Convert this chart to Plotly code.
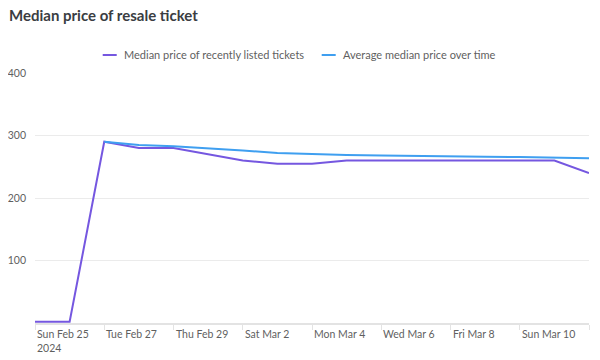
import plotly.graph_objects as go

dates = ["2024-02-25", "2024-02-26", "2024-02-27", "2024-02-28", "2024-02-29",
         "2024-03-01", "2024-03-02", "2024-03-03", "2024-03-04", "2024-03-05",
         "2024-03-06", "2024-03-07", "2024-03-08", "2024-03-09", "2024-03-10",
         "2024-03-11", "2024-03-12"]
median_recent = [2, 2, 290, 280, 280, 270, 260, 255, 255, 260, 260, 260, 260, 260, 260, 260, 240]
avg_median = [None, None, 290, 285, 283, 280, 276, 272, 270, 269, 268, 267, 266.5, 266, 265.5, 265, 263.5]

series_names = ["Median price of recently listed tickets", "Average median price over time"]

tick_dates = ["2024-02-25", "2024-02-27", "2024-02-29", "2024-03-02", "2024-03-04",
              "2024-03-06", "2024-03-08", "2024-03-10", "2024-03-12"]
tick_labels = ["Sun Feb 25<br>2024", "Tue Feb 27", "Thu Feb 29", "Sat Mar 2", "Mon Mar 4",
               "Wed Mar 6", "Fri Mar 8", "Sun Mar 10", ""]
y_ticks = [100, 200, 300, 400]

FONT = "Lato, 'Open Sans', sans-serif"
PURPLE = "#7557e0"
BLUE = "#3f9ff0"
TXT = "#5f5f5f"

fig = go.Figure()
fig.add_trace(go.Scatter(x=dates, y=median_recent, mode="lines", name=series_names[0],
                         line=dict(color=PURPLE, width=2)))
fig.add_trace(go.Scatter(x=dates, y=avg_median, mode="lines", name=series_names[1],
                         line=dict(color=BLUE, width=2)))

annotations = []
for d, t in zip(tick_dates, tick_labels):
    if t:
        annotations.append(dict(x=d, xref="x", y=0, yref="y", yshift=-3,
                                text=t, showarrow=False, xanchor="left", yanchor="top",
                                align="left", font=dict(size=10.5, color=TXT, family=FONT)))

# custom legend (short line swatches like the reference)
leg_y = 1.072
leg_items = [(0.1222, 0.1475, 0.1576, PURPLE, series_names[0]),
             (0.5175, 0.5428, 0.5518, BLUE, series_names[1])]
shapes = []
for x0, x1, xt, col, name in leg_items:
    shapes.append(dict(type="line", xref="paper", yref="paper", x0=x0, x1=x1,
                       y0=leg_y, y1=leg_y, line=dict(color=col, width=2)))
    annotations.append(dict(x=xt, xref="paper", y=leg_y, yref="paper", text=name,
                            showarrow=False, xanchor="left", yanchor="middle",
                            font=dict(size=11, color=TXT, family=FONT)))
shapes.append(dict(type="line", xref="paper", yref="paper", x0=1.0144, x1=1.0144,
                   y0=-0.2, y1=1.35, line=dict(color="#e6e6e6", width=2)))

fig.update_layout(
    width=592, height=352,
    margin=dict(l=27, r=11, t=65, b=37, autoexpand=False),
    paper_bgcolor="white", plot_bgcolor="white",
    font=dict(family=FONT, size=11, color=TXT),
    title=dict(text="<b>Median price of resale ticket</b>", x=0.0017, xanchor="left",
               y=1.0, yanchor="top", pad=dict(t=2),
               font=dict(size=15, color="#3a3d42", family=FONT)),
    showlegend=False,
    annotations=annotations,
    shapes=shapes,
)
fig.update_xaxes(
    range=["2024-02-25", "2024-03-12"], automargin=False,
    tickvals=tick_dates, ticktext=[""] * len(tick_dates),
    showgrid=False, showline=True, linecolor="#e3e3e3", linewidth=1.5,
    ticks="outside", ticklen=5, tickcolor="#e3e3e3", zeroline=False,
)
fig.update_yaxes(
    range=[0, 400], tickvals=y_ticks, automargin=False,
    showgrid=True, gridcolor="#ebebeb", gridwidth=1, zeroline=False, showline=False,
    tickfont=dict(size=10.5, color=TXT), ticklabelstandoff=8,
)

fig.write_html("out.html")
